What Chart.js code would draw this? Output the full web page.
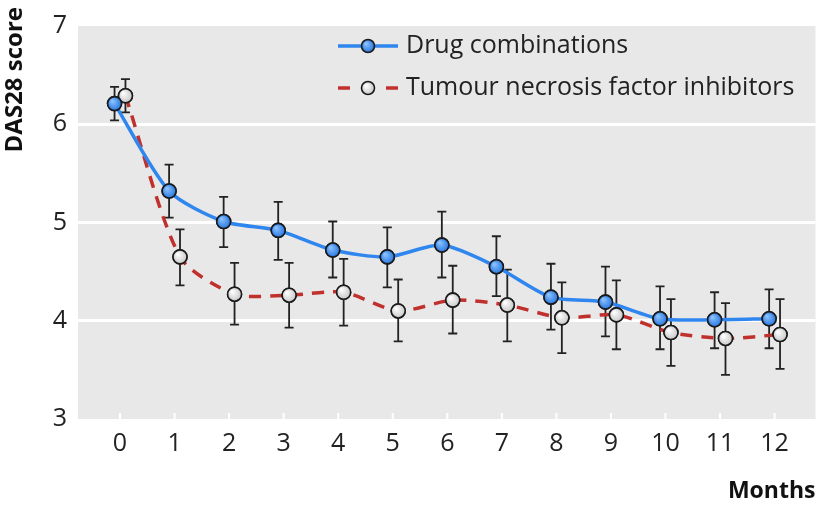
<!DOCTYPE html>
<html>
<head>
<meta charset="utf-8">
<script src="https://cdn.jsdelivr.net/npm/chart.js@4/dist/chart.umd.min.js"></script>
<style>
  html, body { margin: 0; padding: 0; background: #fff; }
  #wrap { width: 824px; height: 508px; }
</style>
</head>
<body>
<div id="wrap"><canvas id="chart"></canvas></div>
<script>
// Months on the x axis
const months = [0, 1, 2, 3, 4, 5, 6, 7, 8, 9, 10, 11, 12];

// Drug combinations: mean DAS28 and 95% CI
const drugMean = [6.21, 5.32, 5.01, 4.92, 4.72, 4.65, 4.77, 4.55, 4.24, 4.19, 4.02, 4.01, 4.02];
const drugLow  = [6.04, 5.05, 4.75, 4.62, 4.44, 4.34, 4.44, 4.25, 3.91, 3.84, 3.71, 3.72, 3.72];
const drugHigh = [6.38, 5.59, 5.26, 5.21, 5.01, 4.95, 5.11, 4.86, 4.58, 4.55, 4.35, 4.29, 4.32];

// Tumour necrosis factor inhibitors: mean DAS28 and 95% CI
const tnfMean = [6.29, 4.65, 4.27, 4.26, 4.29, 4.10, 4.21, 4.16, 4.03, 4.06, 3.88, 3.82, 3.86];
const tnfLow  = [6.12, 4.36, 3.96, 3.93, 3.95, 3.79, 3.87, 3.79, 3.67, 3.71, 3.54, 3.45, 3.51];
const tnfHigh = [6.46, 4.93, 4.59, 4.59, 4.63, 4.42, 4.56, 4.52, 4.39, 4.41, 4.22, 4.18, 4.22];

const yTicks = [3, 4, 5, 6, 7];
const seriesNames = ['Drug combinations', 'Tumour necrosis factor inhibitors'];
const yTitle = 'DAS28 score';

const FONT = "'Open Sans', 'DejaVu Sans', sans-serif";
const shift = 0.1; // small sideways shift so the two series don't overlap

// marker shading: [highlight, base]
const shades = [['#8cc4ff', '#2a78e0'], ['#ffffff', '#c9c9c9']];

function shadedDot(ctx, x, y, r, shade) {
    const g = ctx.createRadialGradient(x - r * 0.35, y - r * 0.4, 0.5, x, y, r);
    g.addColorStop(0, shade[0]);
    g.addColorStop(1, shade[1]);
    ctx.beginPath();
    ctx.arc(x, y, r, 0, Math.PI * 2);
    ctx.fillStyle = g;
    ctx.fill();
    ctx.strokeStyle = '#1a1a1a';
    ctx.lineWidth = 1.6;
    ctx.stroke();
}

// Plot background + white tick marks at the bottom of the plot
const backdrop = {
    id: 'backdrop',
    beforeDraw(chart) {
        const { ctx, chartArea: a, scales } = chart;
        ctx.save();
        ctx.fillStyle = '#e8e8e8';
        ctx.fillRect(a.left, a.top, a.right - a.left, a.bottom - a.top);
        ctx.strokeStyle = '#ffffff';
        ctx.lineWidth = 2;
        months.forEach(m => {
            const x = scales.x.getPixelForValue(m);
            ctx.beginPath();
            ctx.moveTo(x, a.bottom - 6);
            ctx.lineTo(x, a.bottom);
            ctx.stroke();
        });
        ctx.restore();
    }
};

// Error bars drawn from the CI arrays
const errorBars = {
    id: 'errorBars',
    beforeDatasetsDraw(chart) {
        const { ctx, scales } = chart;
        const sets = [[drugLow, drugHigh, -shift], [tnfLow, tnfHigh, shift]];
        ctx.save();
        ctx.strokeStyle = '#222';
        ctx.lineWidth = 1.8;
        sets.forEach(([lo, hi, dx]) => {
            months.forEach((m, i) => {
                const x = scales.x.getPixelForValue(m + dx);
                const y1 = scales.y.getPixelForValue(lo[i]);
                const y2 = scales.y.getPixelForValue(hi[i]);
                ctx.beginPath();
                ctx.moveTo(x, y1); ctx.lineTo(x, y2);
                ctx.moveTo(x - 4.5, y1); ctx.lineTo(x + 4.5, y1);
                ctx.moveTo(x - 4.5, y2); ctx.lineTo(x + 4.5, y2);
                ctx.stroke();
            });
        });
        ctx.restore();
    }
};

// Repaint the markers with a little shading (TNF first so drug dots sit on top)
const dotShading = {
    id: 'dotShading',
    afterDatasetsDraw(chart) {
        const { ctx } = chart;
        ctx.save();
        [1, 0].forEach(i => {
            chart.getDatasetMeta(i).data.forEach(pt => {
                shadedDot(ctx, pt.x, pt.y, 7, shades[i]);
            });
        });
        ctx.restore();
    }
};

// Legend with line + marker sample, and the rotated y title at the top left
const lineLegend = {
    id: 'lineLegend',
    afterDraw(chart) {
        const { ctx } = chart;
        const rows = [46, 88];
        ctx.save();
        chart.data.datasets.forEach((ds, i) => {
            const y = rows[i];
            ctx.strokeStyle = ds.borderColor;
            ctx.lineWidth = ds.borderWidth;
            ctx.beginPath();
            if (ds.borderDash) {
                ctx.moveTo(338, y); ctx.lineTo(350, y);
                ctx.moveTo(386, y); ctx.lineTo(398, y);
            } else {
                ctx.moveTo(338, y); ctx.lineTo(398, y);
            }
            ctx.stroke();
            shadedDot(ctx, 368, y, 6.5, shades[i]);
            ctx.fillStyle = '#222';
            ctx.font = '25px ' + FONT;
            ctx.textBaseline = 'middle';
            ctx.textAlign = 'left';
            ctx.fillText(ds.label, 406, y);
        });

        ctx.translate(15, 7);
        ctx.rotate(-Math.PI / 2);
        ctx.fillStyle = '#111';
        ctx.font = 'bold 24px ' + FONT;
        ctx.textAlign = 'right';
        ctx.textBaseline = 'middle';
        ctx.fillText(yTitle, 0, 0);
        ctx.restore();
    }
};

const data = {
    datasets: [
        {
            label: seriesNames[0],
            data: months.map((m, i) => ({ x: m - shift, y: drugMean[i] })),
            borderColor: '#2f86ee',
            borderWidth: 3.5,
            tension: 0.25,
            pointRadius: 7,
            pointBackgroundColor: shades[0][1],
            pointBorderColor: '#1a1a1a',
            pointBorderWidth: 1.5
        },
        {
            label: seriesNames[1],
            data: months.map((m, i) => ({ x: m + shift, y: tnfMean[i] })),
            borderColor: '#c0302c',
            borderWidth: 3.5,
            borderDash: [12, 9],
            tension: 0.25,
            pointRadius: 7,
            pointBackgroundColor: shades[1][1],
            pointBorderColor: '#1a1a1a',
            pointBorderWidth: 1.5
        }
    ]
};

const config = {
    type: 'line',
    data: data,
    options: {
        responsive: true,
        maintainAspectRatio: false,
        animation: false,
        layout: { padding: { top: 15, right: 6, left: 0, bottom: 0 } },
        plugins: {
            legend: { display: false },
            tooltip: { enabled: false }
        },
        scales: {
            x: {
                type: 'linear',
                min: -0.77,
                max: 12.75,
                afterBuildTicks: sc => { sc.ticks = months.map(v => ({ value: v })); },
                afterFit: sc => { sc.height = 89; },
                grid: { display: false },
                border: { display: false },
                ticks: { color: '#222', font: { family: FONT, size: 25 }, padding: 2 },
                title: {
                    display: true, text: 'Months', align: 'end', color: '#111',
                    font: { family: FONT, size: 23, weight: 'bold' },
                    padding: { top: 0, bottom: 3 }
                }
            },
            y: {
                min: 3,
                max: 7,
                afterBuildTicks: sc => { sc.ticks = yTicks.map(v => ({ value: v })); },
                afterFit: sc => { sc.width = 78; },
                grid: {
                    color: c => (c.tick && (c.tick.value === 3 || c.tick.value === 7)) ? 'rgba(0,0,0,0)' : '#ffffff',
                    lineWidth: 3,
                    drawTicks: false
                },
                border: { display: false },
                ticks: { color: '#222', font: { family: FONT, size: 25 }, padding: 11 },
                title: { display: false }
            }
        }
    },
    plugins: [backdrop, errorBars, dotShading, lineLegend]
};

new Chart(document.getElementById('chart'), config);
</script>
</body>
</html>
